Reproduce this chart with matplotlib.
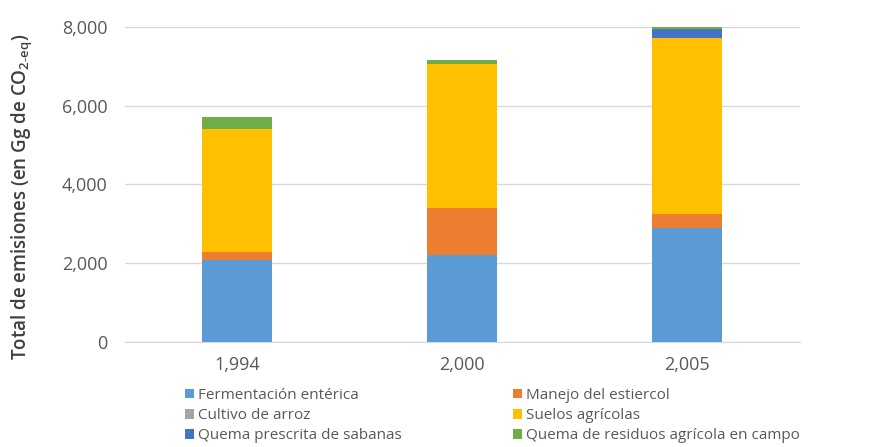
import numpy as np
import matplotlib.pyplot as plt
from matplotlib.ticker import FuncFormatter

plt.rcParams['font.family'] = ['Open Sans', 'DejaVu Sans']

# emisiones por categoría (Gg CO2-eq)
years = ['1,994', '2,000', '2,005']
fermentacion = [2090, 2220, 2890]
manejo = [195, 1180, 365]
arroz = [0, 0, 0]
suelos = [3115, 3650, 4465]
quema_sabanas = [0, 0, 230]
quema_residuos = [310, 100, 45]

series = [
    ('Fermentación entérica', fermentacion, '#5B9BD5'),
    ('Manejo del estiercol', manejo, '#ED7D31'),
    ('Cultivo de arroz', arroz, '#A5A5A5'),
    ('Suelos agrícolas', suelos, '#FFC000'),
    ('Quema prescrita de sabanas', quema_sabanas, '#4472C4'),
    ('Quema de residuos agrícola en campo', quema_residuos, '#70AD47'),
]

fig = plt.figure(figsize=(8.77, 4.47), dpi=100)
ax = fig.add_axes([0.142, 0.235, 0.77, 0.705])

x = np.arange(len(years))
bottom = np.zeros(len(years))
handles = {}
for name, vals, col in series:
    b = ax.bar(x, vals, width=0.31, bottom=bottom, color=col, label=name, zorder=3)
    handles[name] = b
    bottom += np.array(vals)

ax.set_xlim(-0.5, 2.5)
ax.set_ylim(0, 8000)
ax.set_yticks([0, 2000, 4000, 6000, 8000])
ax.yaxis.set_major_formatter(FuncFormatter(lambda v, p: f'{int(v):,}'))
ax.set_xticks(x)
ax.set_xticklabels(years)
ax.grid(axis='y', color='#D9D9D9', linewidth=1, zorder=0)
for s in ['top', 'right', 'left']:
    ax.spines[s].set_visible(False)
ax.spines['bottom'].set_color('#D9D9D9')
ax.tick_params(axis='both', length=0, labelsize=13, colors='#595959')
ax.tick_params(axis='x', pad=10)
ax.tick_params(axis='y', pad=12)

ax.set_ylabel('Total de emisiones (en Gg de CO$_{\\mathregular{2\u2010eq}}$)',
              fontsize=13.5, color='#404040', fontweight='semibold')
ax.yaxis.set_label_coords(-0.134, 0.46)

names = [s[0] for s in series]
col1 = [names[0], names[2], names[4]]
col2 = [names[1], names[3], names[5]]
for cols, xpos in [(col1, 0.211), (col2, 0.585)]:
    leg = fig.legend([handles[n] for n in cols], cols, loc='upper left',
                     bbox_to_anchor=(xpos, 0.132), frameon=False, fontsize=11,
                     handlelength=0.6, handleheight=0.6, handletextpad=0.25,
                     labelspacing=0.33, borderaxespad=0, borderpad=0)
    for t in leg.get_texts():
        t.set_color('#595959')

fig.savefig('out.png', dpi=100)
